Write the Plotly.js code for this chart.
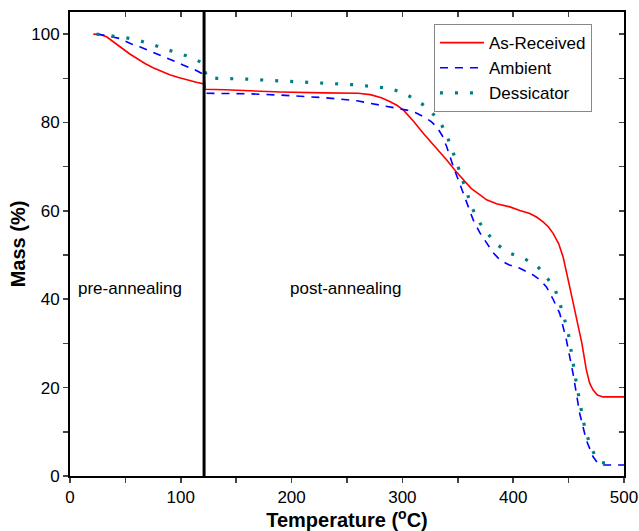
<!DOCTYPE html>
<html>
<head>
<meta charset="utf-8">
<script src="https://cdn.plot.ly/plotly-3.0.1.min.js"></script>
<style>html,body{margin:0;padding:0;background:#fff;}#chart{width:639px;height:531px;}</style>
</head>
<body>
<div id="chart"></div>
<script>
// As-Received
const recvT = [21, 27, 33, 40, 47, 54, 61, 68, 75, 82, 90, 98, 106, 114, 121, 122, 140, 160, 190, 230, 260, 271, 281, 289, 295, 301, 310, 319, 330, 340, 348, 355, 362, 370, 376, 385, 397, 406, 415, 421, 427, 432, 436, 441, 445, 451, 457, 462, 466, 469, 472, 476, 481, 490, 500];
const recvM = [100, 99.9, 99.4, 98.2, 96.8, 95.5, 94.3, 93.3, 92.4, 91.6, 90.8, 90.2, 89.6, 89.1, 88.7, 87.5, 87.4, 87.2, 86.9, 86.7, 86.6, 86.3, 85.6, 84.7, 83.9, 82.8, 80.3, 77.5, 74.4, 71.5, 69, 67, 65.1, 63.6, 62.5, 61.6, 60.9, 60.1, 59.4, 58.6, 57.5, 56.3, 54.9, 52.6, 49.6, 42.8, 36, 30, 24, 21, 19.5, 18.3, 17.9, 17.9, 17.9];
// Ambient
const ambT = [24, 30, 45, 55, 64, 72, 80, 87, 95, 102, 112, 119, 121, 122, 140, 160, 190, 230, 259, 280, 295, 304, 312, 319, 326, 331, 336, 340, 346, 355, 364, 370, 376, 382, 388, 396, 406, 418, 425, 430, 436, 442, 448, 454, 460, 466, 472, 476, 481, 490, 500];
const ambM = [100, 99.8, 99, 97.8, 97, 96.2, 95.3, 94.6, 93.8, 93, 92, 91.1, 90.6, 86.6, 86.6, 86.5, 86.2, 85.6, 84.9, 83.9, 83.3, 82.8, 82.2, 81.3, 80.2, 79, 77, 74.5, 70, 64, 57.9, 55, 52.6, 50.5, 48.9, 47.8, 47, 45.5, 44.2, 42.8, 40, 36.8, 30.8, 23.2, 14.2, 8.1, 4.4, 3, 2.5, 2.5, 2.5];
// Dessicator
const desT = [24, 39, 50, 60, 66, 75, 85, 92, 99, 105, 112, 118, 121, 123, 133, 160, 190, 230, 259, 289, 301, 313, 323, 334, 340, 345, 354, 363, 370, 384, 397, 409, 421, 430, 438, 445, 450, 454, 457, 462, 465, 469, 474, 480, 487];
const desM = [100, 99.6, 99.2, 98.7, 98.3, 97.6, 96.7, 96.2, 95.6, 95.1, 94.4, 93.7, 93.3, 90.2, 90, 89.8, 89.4, 88.9, 88.5, 87.7, 86.6, 85.1, 83.2, 80.2, 77.1, 73.8, 67, 60.6, 57.2, 52.6, 50.4, 49.3, 47.7, 45.1, 42.1, 36.8, 31.9, 25.5, 21, 14.2, 10.4, 7.4, 4.4, 3, 2.9];

const xTickVals = [0, 50, 100, 150, 200, 250, 300, 350, 400, 450, 500];
const xTickText = ['0', '', '100', '', '200', '', '300', '', '400', '', '500'];
const yTickVals = [0, 10, 20, 30, 40, 50, 60, 70, 80, 90, 100];
const yTickText = ['0', '', '20', '', '40', '', '60', '', '80', '', '100'];
const annealT = 121;
const regionLabels = ['pre-annealing', 'post-annealing'];
const regionX = [54, 249];
const regionY = 42.5;

const FONT = 'Arial, "Liberation Sans", sans-serif';

const traces = [
  {x: recvT, y: recvM, name: 'As-Received', mode: 'lines', line: {color: '#ff0000', width: 1.6}},
  {x: ambT, y: ambM, name: 'Ambient', mode: 'lines', line: {color: '#0000ff', width: 1.6, dash: '8px,7px'}},
  {x: desT, y: desM, name: 'Dessicator', mode: 'lines', line: {color: '#008080', width: 3.2, dash: '3px,12px'}}
];

const layout = {
  width: 639, height: 531,
  margin: {l: 70, r: 15, t: 12, b: 55},
  paper_bgcolor: '#fff', plot_bgcolor: '#fff',
  font: {family: FONT, color: '#000', size: 17},
  showlegend: true,
  legend: {x: 0.657, y: 0.974, xanchor: 'left', yanchor: 'top', bgcolor: '#fff',
    bordercolor: '#888', borderwidth: 1, font: {size: 17, family: FONT}, tracegroupgap: 0, itemwidth: 44},
  xaxis: {range: [0, 500], tickvals: xTickVals, ticktext: xTickText, ticks: 'outside', ticklen: 5, tickwidth: 1.5,
    showline: true, linewidth: 2, linecolor: '#000', mirror: true, showgrid: false, zeroline: false,
    tickfont: {size: 17}, title: {text: 'Temperature (<sup>o</sup>C)', font: {size: 20, family: FONT, weight: 'bold'}, standoff: 4}},
  yaxis: {range: [0, 105], tickvals: yTickVals, ticktext: yTickText, ticks: 'outside', ticklen: 5, tickwidth: 1.5,
    showline: true, linewidth: 2, linecolor: '#000', mirror: true, showgrid: false, zeroline: false,
    tickfont: {size: 17}, title: {text: 'Mass (%)', font: {size: 20, family: FONT, weight: 'bold'}, standoff: 0}},
  xaxis2: {overlaying: 'x', side: 'top', range: [0, 500], tickvals: xTickVals, ticks: 'inside', ticklen: 5, tickwidth: 1.5,
    showticklabels: false, showline: false, showgrid: false, zeroline: false},
  yaxis2: {overlaying: 'y', side: 'right', range: [0, 105], tickvals: yTickVals, ticks: 'inside', ticklen: 5, tickwidth: 1.5,
    showticklabels: false, showline: false, showgrid: false, zeroline: false},
  shapes: [{type: 'line', xref: 'x', yref: 'paper', x0: annealT, x1: annealT, y0: 0, y1: 1, line: {color: '#000', width: 3}}],
  annotations: regionLabels.map((t, i) => ({x: regionX[i], y: regionY, xref: 'x', yref: 'y', text: t, showarrow: false,
    font: {size: 17, family: FONT, color: '#000'}}))
};

// invisible helper trace so the mirrored tick axes are drawn
traces.push({x: [0], y: [0], xaxis: 'x2', yaxis: 'y2', mode: 'markers', marker: {opacity: 0}, showlegend: false, hoverinfo: 'skip'});

Plotly.newPlot('chart', traces, layout, {displayModeBar: false, staticPlot: true});
</script>
</body>
</html>
